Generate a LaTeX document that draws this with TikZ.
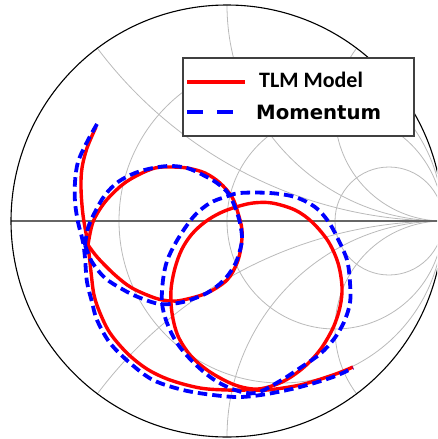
\documentclass[tikz,border=0pt]{standalone}
\usepackage{fontspec}
\newfontfamily\legendfont{Carlito}
\newfontfamily\legendfontwide{DejaVu Sans}
\begin{document}
\begin{tikzpicture}[x=1pt,y=-1pt,
  gridline/.style={draw=black!27, line width=0.8pt},
  axisline/.style={draw=black!60, line width=1.4pt},
  rimline/.style={draw=black, line width=1.1pt},
  redtrace/.style={draw=red, line width=3.4pt, line join=round},
  bluetrace/.style={draw=blue, line width=3.8pt, dash pattern=on 9.5pt off 5pt},
  legendbox/.style={draw=black!75, line width=1.8pt, fill=white},
  smoothpath/.style={smooth, tension=0.55}]
\useasboundingbox (0,0) rectangle (437,439);
\clip (0,0) rectangle (437,439);
\coordinate (O) at (227,221);

% Smith chart grid, kept inside the unit circle
\begin{scope}
  \clip (O) circle (216pt);
  % constant resistance circles r = 1/3, 1, 3
  \draw[gridline] (281,221) circle (162pt);
  \draw[gridline] (335,221) circle (108pt);
  \draw[gridline] (389,221) circle (54pt);
  % constant reactance arcs x = +-0.5, +-1, +-2
  \draw[gridline] (443,-211) circle (432pt);
  \draw[gridline] (443,653) circle (432pt);
  \draw[gridline] (443,5) circle (216pt);
  \draw[gridline] (443,437) circle (216pt);
  \draw[gridline] (443,113) circle (108pt);
  \draw[gridline] (443,329) circle (108pt);
\end{scope}
\draw[axisline] (11,221) -- (437,221);
\draw[rimline] (O) circle (216pt);

% TLM model trace
\draw[redtrace] plot[smoothpath] coordinates {(96,127) (87,148) (82,168) (81,188) (83,215) (88,245) (91,272) (94,295) (100,313) (110,333) (127,353) (147,369) (170,380) (200,388) (227,390) (250,390) (267,390) (300,385) (333,375) (353,367)};
\draw[redtrace] plot[smoothpath] coordinates {(88,245) (98,258) (115,275) (132,288) (155,298) (170,301) (183,300) (207,293) (227,280) (237,263) (241,247) (242,230) (238,213) (232,197) (220,183) (205,173) (187,168) (170,167) (155,168) (138,175) (122,185) (105,202) (93,222) (88,245)};
\draw[redtrace] plot[smooth cycle, tension=0.55] coordinates {(171,290) (172,313) (178,336) (191,356) (210,372) (235,385) (258,389) (282,382) (303,368) (320,350) (333,328) (340,307) (342,287) (338,263) (328,241) (312,222) (295,210) (272,203) (253,203) (236,207) (220,213) (205,222) (192,234) (182,249) (175,268)};

% Momentum trace
\draw[bluetrace] plot[smoothpath] coordinates {(97,124) (87,142) (78,162) (75,182) (75,202) (78,222) (83,242) (85,258) (87,282) (92,302) (97,320) (110,343) (130,363) (153,380) (183,390) (213,395) (240,397) (267,394) (300,387) (333,377) (353,368)};
\draw[bluetrace] plot[smoothpath] coordinates {(85,245) (92,262) (105,278) (122,289) (138,297) (160,304) (183,302) (207,293) (223,281) (233,268) (238,257) (242,240) (240,223) (235,207) (228,193) (217,183) (203,175) (187,168) (170,166) (153,168) (135,173) (118,182) (105,195) (95,212) (88,228) (85,245)};
\draw[bluetrace] plot[smooth cycle, tension=0.55] coordinates {(163,280) (162,303) (167,323) (177,343) (193,362) (213,379) (235,390) (256,393) (280,381) (300,368) (320,354) (334,339) (344,322) (350,303) (350,283) (347,260) (337,237) (328,221) (315,207) (295,197) (270,193) (240,193) (225,197) (210,203) (196,214) (185,228) (175,244) (167,261)};

% legend
\node[legendbox, anchor=north west, minimum width=231pt, minimum height=78pt, inner sep=0pt] (legend) at (182,57) {};
\coordinate (redA) at (187,82);
\coordinate (redB) at (245,82);
\coordinate (blueA) at (187,112);
\coordinate (blueB) at (233,112);
\draw[redtrace, line width=4pt] (redA) -- (redB);
\draw[bluetrace, line width=4pt, dash pattern=on 16pt off 14pt] (blueA) -- (blueB);
\node[anchor=base west, inner sep=0pt, font=\legendfont\bfseries\fontsize{22}{24}\selectfont] (labelTLM) at (259,87) {TLM Model};
\node[anchor=base west, inner sep=0pt, font=\legendfontwide\bfseries\fontsize{19.7}{22}\selectfont] (labelMom) at (256,119) {Momentum};
\end{tikzpicture}
\end{document}
